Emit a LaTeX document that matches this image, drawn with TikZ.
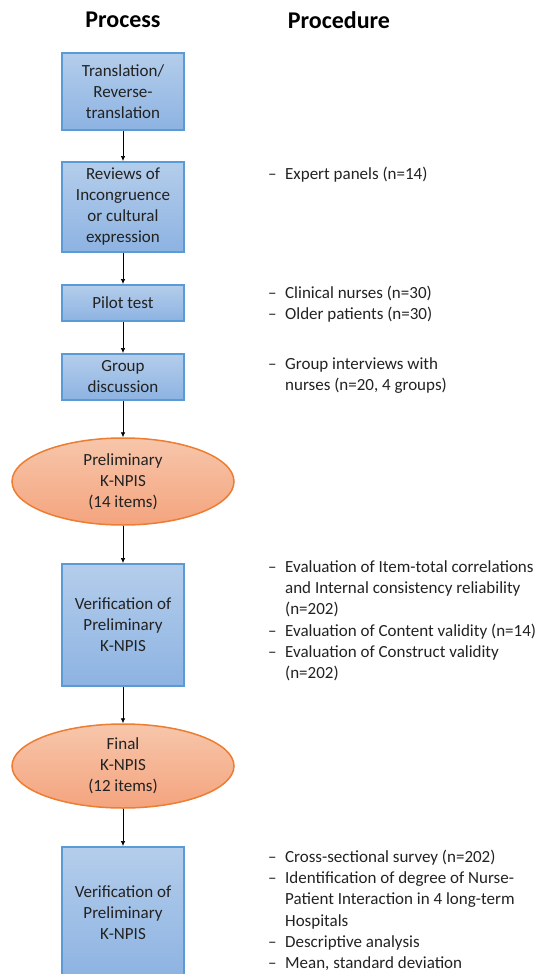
\documentclass[tikz,border=0pt]{standalone}
\usepackage{fontspec}
\setmainfont{Carlito}
\usetikzlibrary{arrows.meta,shapes.geometric}
\definecolor{boxtop}{HTML}{B4CDEB}
\definecolor{boxbot}{HTML}{8DB3E2}
\definecolor{boxline}{HTML}{5B9BD5}
\definecolor{elltop}{HTML}{F7C6AB}
\definecolor{ellbot}{HTML}{F4A47E}
\definecolor{ellline}{HTML}{ED7D31}
\definecolor{txt}{HTML}{222222}
\newcommand{\dsh}{–}
\begin{document}
\begin{tikzpicture}[x=1pt,y=-1pt,
  every node/.style={text=txt},
  procbox/.style={draw=boxline,line width=2pt,top color=boxtop,bottom color=boxbot,
    minimum width=122pt,align=center,font=\fontsize{17}{21}\selectfont,inner sep=0pt},
  stage/.style={ellipse,draw=ellline,line width=1.5pt,top color=elltop,bottom color=ellbot,
    minimum width=222pt,align=center,font=\fontsize{17}{21}\selectfont,inner sep=0pt},
  flow/.style={-{Latex[length=5pt,width=4.5pt]},line width=0.7pt,black},
  header/.style={font=\fontsize{24}{28}\selectfont\bfseries,text=black},
  proc/.style={anchor=base west,font=\fontsize{17}{21.2}\selectfont,inner sep=0pt}]
\useasboundingbox (0,0) rectangle (551,974);

\node[header] (h1) at (123,20) {Process};
\node[header] (h2) at (339,20) {Procedure};

\node[procbox,minimum height=77pt] (b1) at (123,91.5) {Translation/\\Reverse-\\translation};
\node[procbox,minimum height=90pt] (b2) at (123,207) {Reviews of\\Incongruence\\or cultural\\expression};
\node[procbox,minimum height=36pt] (b3) at (123,303) {Pilot test};
\node[procbox,minimum height=46pt] (b4) at (123,377) {Group\\discussion};
\node[stage,minimum height=87pt] (e1) at (123,481.5) {Preliminary\\K-NPIS\\(14 items)};
\node[procbox,minimum height=122pt] (b5) at (123,625) {Verification of\\Preliminary\\K-NPIS};
\node[stage,minimum height=84pt] (e2) at (123,766) {Final\\K-NPIS\\(12 items)};
\node[procbox,minimum height=131pt] (b6) at (123,912.5) {Verification of\\Preliminary\\K-NPIS};

\draw[flow] (b1) -- (b2);
\draw[flow] (b2) -- (b3);
\draw[flow] (b3) -- (b4);
\draw[flow] (b4) -- (e1);
\draw[flow] (e1) -- (b5);
\draw[flow] (b5) -- (e2);
\draw[flow] (e2) -- (b6);

\node[proc] (p2) at (268,179.5) {\begin{tabular}[t]{@{}l@{\hspace{8.5pt}}l@{}}
\dsh & Expert panels (n=14)\end{tabular}};
\node[proc] (p3) at (268,298.5) {\begin{tabular}[t]{@{}l@{\hspace{8.5pt}}l@{}}
\dsh & Clinical nurses (n=30)\\
\dsh & Older patients (n=30)\end{tabular}};
\node[proc] (p4) at (268,369.5) {\begin{tabular}[t]{@{}l@{\hspace{8.5pt}}l@{}}
\dsh & Group interviews with\\
 & nurses (n=20, 4 groups)\end{tabular}};
\node[proc] (p5) at (268,572.5) {\begin{tabular}[t]{@{}l@{\hspace{8.5pt}}l@{}}
\dsh & Evaluation of Item-total correlations\\
 & and Internal consistency reliability\\
 & (n=202)\\
\dsh & Evaluation of Content validity (n=14)\\
\dsh & Evaluation of Construct validity\\
 & (n=202)\end{tabular}};
\node[proc] (p6) at (268,862.5) {\begin{tabular}[t]{@{}l@{\hspace{8.5pt}}l@{}}
\dsh & Cross-sectional survey (n=202)\\
\dsh & Identification of degree of Nurse-\\
 & Patient Interaction in 4 long-term\\
 & Hospitals\\
\dsh & Descriptive analysis\\
\dsh & Mean, standard deviation\end{tabular}};
\end{tikzpicture}
\end{document}
